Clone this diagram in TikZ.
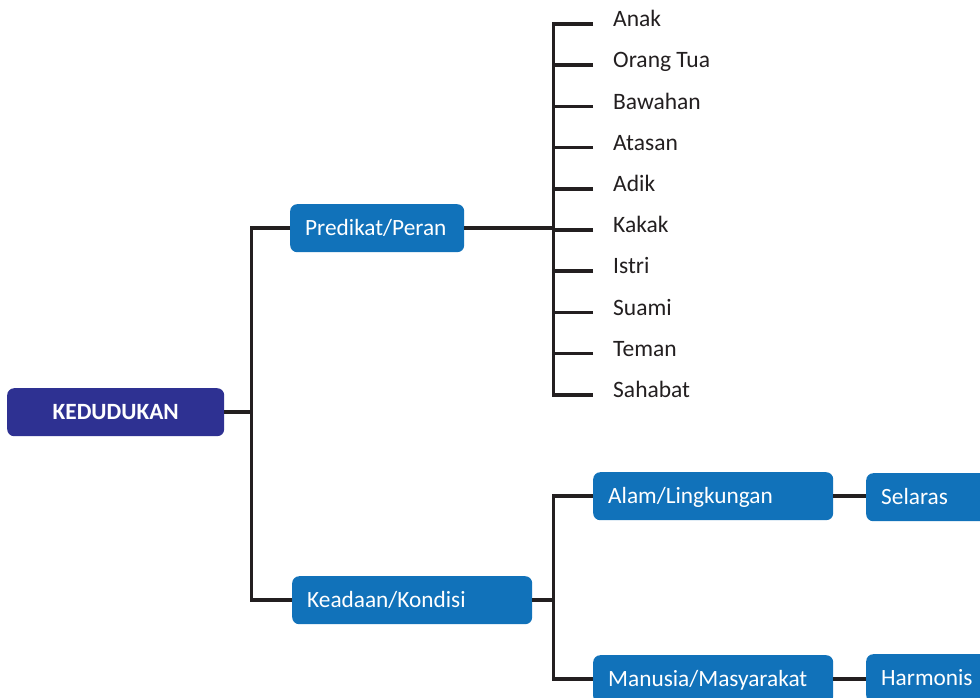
\documentclass[tikz,border=0pt]{standalone}
\usepackage{fontspec}
\setmainfont{Carlito}
\definecolor{boxblue}{HTML}{1172BA}
\definecolor{darkblue}{HTML}{2E3192}
\definecolor{linec}{HTML}{231F20}
\begin{document}
\begin{tikzpicture}[x=1pt,y=-1pt,
  conn/.style={draw=linec, line width=3.5pt, line join=miter},
  box/.style={rounded corners=7pt, fill=boxblue, text=white,
    font=\fontsize{23.3}{27}\selectfont, anchor=north west,
    minimum height=48pt, inner ysep=0pt, text height=15pt, text depth=0pt,
    inner xsep=15pt, align=left},
  rootbox/.style={rounded corners=7pt, fill=darkblue, text=white,
    font=\fontsize{23.3}{27}\selectfont\bfseries, anchor=north west,
    minimum height=48pt, minimum width=217pt, inner ysep=0pt,
    text height=15pt, text depth=0pt},
  item/.style={anchor=west, font=\fontsize{23.5}{27}\selectfont, text=linec,
    inner xsep=20pt, inner ysep=0pt, text height=15pt, text depth=9.6pt}]
\clip (0,0) rectangle (980,697);
\fill[white] (0,0) rectangle (980,697);

\node[rootbox] (ked) at (7,388) {KEDUDUKAN};
\node[box, text width=144pt] (pred) at (290,204) {Predikat/Peran};
\node[box, text width=210pt] (kead) at (292,576) {Keadaan/Kondisi};
\node[box, text width=210pt] (alam) at (593,472) {Alam/Lingkungan};
\node[box, text width=210pt] (man) at (593,655) {Manusia/Masyarakat};
\node[box, text width=110pt] (sel) at (866,473) {Selaras};
\node[box, text width=110pt] (harm) at (866,654) {Harmonis};

\node[item] (i1) at (593,24) {Anak};
\node[item] (i2) at (593,65.2) {Orang Tua};
\node[item] (i3) at (593,106.4) {Bawahan};
\node[item] (i4) at (593,147.6) {Atasan};
\node[item] (i5) at (593,188.8) {Adik};
\node[item] (i6) at (593,230) {Kakak};
\node[item] (i7) at (593,271.2) {Istri};
\node[item] (i8) at (593,312.4) {Suami};
\node[item] (i9) at (593,353.6) {Teman};
\node[item] (i10) at (593,394.8) {Sahabat};

\draw[conn] (ked.east) -- ++(27,0) coordinate (kj);
\draw[conn] (pred.west) -| (kj) |- (kead.west);
\draw[conn] (pred.east) -- ++(89,0) coordinate (pj);
\draw[conn] (i1.west) -| (pj) |- (i10.west);
\foreach \i in {2,...,9} {\draw[conn] (i\i.west) -- (i\i.west -| pj);}
\draw[conn] (kead.east) -- ++(21,0) coordinate (qj);
\draw[conn] (alam.west) -| (qj) |- (man.west);
\draw[conn] (alam.east) -- (sel.west |- alam.east);
\draw[conn] (man.east) -- (harm.west |- man.east);
\end{tikzpicture}
\end{document}
